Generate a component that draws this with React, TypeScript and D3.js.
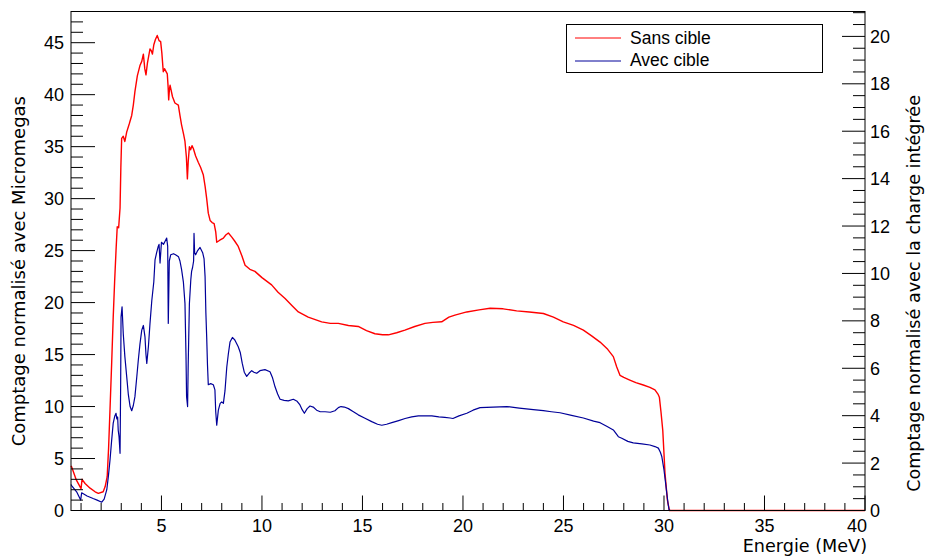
import React from "react";
import * as d3 from "d3";

// ---- Data ----
const sansEnergy = [
  0.5, 0.53, 0.75, 1.0, 1.05, 1.2, 1.45, 1.7, 1.86, 2.1, 2.2, 2.3, 2.37, 2.44, 2.52, 2.6, 2.67, 2.74,
  2.8, 2.87, 2.94, 2.98, 3.02, 3.1, 3.18, 3.27, 3.4, 3.52, 3.6, 3.68, 3.8, 3.93, 4.02, 4.1, 4.17, 4.23,
  4.3, 4.43, 4.5, 4.55, 4.62, 4.7, 4.79, 4.88, 4.96, 5.02, 5.09, 5.15, 5.29, 5.33, 5.36, 5.4, 5.43,
  5.55, 5.67, 5.84, 5.92, 6.0, 6.1, 6.17, 6.24, 6.29, 6.33, 6.39, 6.45, 6.52, 6.59, 6.7, 6.83, 6.95,
  7.08, 7.17, 7.25, 7.33, 7.42, 7.52, 7.62, 7.7, 7.75, 7.9, 8.08, 8.2, 8.33, 8.5, 8.65, 8.82, 9.0,
  9.16, 9.4, 9.65, 10.0, 10.48, 10.8, 11.15, 11.5, 11.81, 12.3, 12.97, 13.4, 13.8, 14.3, 14.79, 15.2,
  15.62, 16.0, 16.29, 16.7, 17.11, 17.6, 18.11, 18.5, 18.94, 19.3, 19.6, 20.19, 20.8, 21.35, 22.0,
  22.67, 23.3, 24.0, 24.5, 24.99, 25.5, 25.99, 26.4, 26.82, 27.2, 27.48, 27.65, 27.81, 28.0, 28.3,
  28.6, 28.97, 29.3, 29.55, 29.7, 29.77, 29.85, 29.94, 30.05, 30.17, 30.27, 40.0,
];
const sansCount = [
  4.3, 4.2, 3.0, 2.1, 3.0, 2.6, 2.15, 1.8, 1.65, 1.8, 2.3, 3.25, 6.0, 9.7, 14.0, 18.6, 22.0, 25.0,
  27.3, 27.2, 29.1, 33.0, 35.8, 36.0, 35.5, 36.4, 37.2, 38.0, 39.0, 40.3, 41.8, 42.8, 43.2, 43.9, 42.5, 41.9,
  43.0, 44.4, 44.2, 43.9, 44.8, 45.3, 45.7, 45.2, 45.1, 44.0, 42.2, 42.5, 42.0, 40.8, 39.5, 40.6, 40.9,
  39.8, 39.2, 39.0, 38.0, 37.1, 36.2, 35.5, 34.0, 31.9, 33.5, 35.0, 34.7, 35.1, 34.8, 34.1, 33.5, 33.0,
  32.3, 31.2, 30.0, 28.6, 27.9, 27.7, 27.6, 26.8, 25.8, 26.0, 26.2, 26.5, 26.7, 26.3, 25.9, 25.4, 24.5,
  23.6, 23.2, 23.0, 22.4, 21.7, 21.0, 20.4, 19.7, 19.1, 18.6, 18.15, 18.0, 18.0, 17.8, 17.7, 17.3,
  17.0, 16.9, 16.9, 17.1, 17.35, 17.7, 18.0, 18.1, 18.15, 18.6, 18.8, 19.1, 19.3, 19.45, 19.4,
  19.2, 19.1, 18.95, 18.6, 18.15, 17.8, 17.35, 16.8, 16.2, 15.5, 14.8, 13.8, 13.0, 12.8, 12.55,
  12.3, 12.07, 11.85, 11.6, 11.2, 10.9, 9.5, 7.7, 3.6, 1.0, 0, 0,
];

const avecEnergy = [
  0.5, 0.53, 0.78, 0.98, 1.03, 1.3, 1.6, 1.8, 2.03, 2.15, 2.28, 2.36, 2.44, 2.52, 2.6, 2.68, 2.74, 2.78,
  2.82, 2.85, 2.89, 2.94, 2.97, 2.99, 3.04, 3.1, 3.18, 3.27, 3.35, 3.44, 3.52, 3.6, 3.68, 3.77, 3.85,
  3.93, 4.02, 4.1, 4.18, 4.23, 4.27, 4.35, 4.43, 4.52, 4.62, 4.68, 4.76, 4.84, 4.88, 4.93, 5.0, 5.1,
  5.18, 5.26, 5.31, 5.34, 5.39, 5.46, 5.6, 5.7, 5.85, 5.92, 6.0, 6.09, 6.17, 6.22, 6.25, 6.3, 6.33,
  6.39, 6.46, 6.5, 6.55, 6.6, 6.62, 6.65, 6.7, 6.8, 6.92, 7.05, 7.12, 7.17, 7.21, 7.25, 7.29, 7.33,
  7.45, 7.58, 7.66, 7.7, 7.75, 7.83, 7.92, 8.0, 8.08, 8.16, 8.25, 8.33, 8.41, 8.53, 8.65, 8.82, 8.92,
  9.02, 9.12, 9.24, 9.36, 9.49, 9.6, 9.74, 9.9, 10.15, 10.4, 10.52, 10.65, 10.78, 10.9, 11.1, 11.31,
  11.56, 11.75, 11.89, 12.0, 12.11, 12.25, 12.39, 12.55, 12.72, 12.9, 13.14, 13.4, 13.63, 13.8, 13.93,
  14.1, 14.3, 14.55, 14.79, 15.1, 15.46, 15.75, 15.96, 16.2, 16.46, 16.8, 17.12, 17.45, 17.78, 18.1,
  18.45, 18.8, 19.1, 19.36, 19.5, 19.8, 20.19, 20.5, 20.85, 21.5, 22.18, 22.8, 23.5, 24.0, 24.4, 24.83,
  25.4, 25.99, 26.5, 26.82, 27.15, 27.48, 27.73, 27.9, 28.2, 28.47, 28.9, 29.3, 29.55, 29.72, 29.82,
  29.89, 30.0, 30.07, 30.14, 30.2, 30.25, 30.3, 40.0,
];
const avecCount = [
  2.5, 2.4, 1.8, 1.0, 1.7, 1.4, 1.15, 1.0, 0.8, 1.1, 2.0, 3.3, 4.85, 6.7, 8.4, 9.1, 9.35, 8.8,
  9.0, 7.7, 7.1, 5.5, 12.0, 18.6, 19.6, 17.0, 14.8, 12.9, 11.2, 10.0, 9.6, 10.1, 10.95, 12.8, 14.5,
  16.0, 17.35, 17.8, 16.7, 15.0, 14.15, 15.75, 18.0, 20.2, 22.0, 24.1, 24.8, 25.4, 25.6, 23.8, 25.8, 25.6,
  25.9, 26.2, 25.4, 18.0, 24.0, 24.6, 24.7, 24.6, 24.4, 24.0, 23.2, 22.0, 19.9, 15.0, 10.95, 10.0, 14.0,
  19.9, 22.2, 23.0, 23.4, 24.0, 26.65, 24.8, 24.6, 25.0, 25.3, 24.8, 24.2, 22.5, 19.0, 16.7, 14.0, 12.1,
  12.2, 12.1, 11.6, 9.5, 8.2, 9.65, 10.3, 10.45, 10.3, 11.5, 13.8, 15.1, 16.2, 16.65, 16.4, 15.75, 15.2,
  14.15, 13.3, 12.9, 13.2, 13.45, 13.3, 13.2, 13.45, 13.55, 13.35, 12.8, 11.9, 11.2, 10.7, 10.6, 10.55,
  10.7, 10.5, 10.15, 9.7, 9.35, 9.8, 10.05, 9.95, 9.65, 9.5, 9.5, 9.45, 9.6, 9.9, 10.0,
  9.95, 9.8, 9.5, 9.2, 8.9, 8.55, 8.3, 8.2, 8.3, 8.45, 8.65, 8.85, 9.0, 9.1, 9.1,
  9.1, 9.0, 8.95, 8.9, 8.85, 9.1, 9.35, 9.65, 9.9, 9.95, 10.0, 9.85, 9.7, 9.6, 9.5, 9.4,
  9.15, 8.9, 8.6, 8.45, 8.1, 7.75, 7.1, 6.95, 6.65, 6.5, 6.4, 6.3, 6.15, 6.0, 5.6,
  5.2, 3.9, 2.8, 1.65, 0.7, 0.1, 0, 0,
];

const xMajorTicks = [5, 10, 15, 20, 25, 30, 35, 40];
const yLeftMajorTicks = [0, 5, 10, 15, 20, 25, 30, 35, 40, 45];
const yRightMajorTicks = [0, 2, 4, 6, 8, 10, 12, 14, 16, 18, 20];

const legendLabels = ["Sans cible", "Avec cible"];
const xTitle = "Energie (MeV)";
const yLeftTitle = "Comptage normalisé avec Micromegas";
const yRightTitle = "Comptage normalisé avec la charge intégrée";

// ---- Layout ----
const W = 927;
const H = 556;
const L = 71;
const R = 865;
const T = 11.5;
const B = 510.5;

const RED = "#ff0000";
const BLUE = "#000099";
const LABEL_FONT = "'Liberation Sans', Arial, Helvetica, sans-serif";
const TITLE_FONT = "'DejaVu Sans', Verdana, sans-serif";

export default function App() {
  const x = d3.scaleLinear().domain([0.5, 40]).range([L, R]);
  const y = d3.scaleLinear().domain([0, 48]).range([B, T]);
  const yR = d3.scaleLinear().domain([0, 21.05]).range([B, T]);

  const sansPts: [number, number][] = sansEnergy.map((e, i) => [e, sansCount[i]]);
  const avecPts: [number, number][] = avecEnergy.map((e, i) => [e, avecCount[i]]);
  const line = d3
    .line<[number, number]>()
    .x((d) => x(d[0]))
    .y((d) => y(d[1]));

  const xMinor = d3.range(1, 41, 1).filter((v) => v % 5 !== 0);
  const yMinor = d3.range(1, 48, 1).filter((v) => v % 5 !== 0);
  const yRMinor = d3.range(0.5, 21.01, 0.5).filter((v) => v % 2 !== 0);

  return (
    <svg width={W} height={H} style={{ position: "absolute", left: 0, top: 0, background: "#fff" }}>
      <rect x={0} y={0} width={W} height={H} fill="#fff" />

      {/* curves */}
      <path d={line(sansPts) || ""} fill="none" stroke={RED} strokeWidth={1.4} strokeLinejoin="round" />
      <path d={line(avecPts) || ""} fill="none" stroke={BLUE} strokeWidth={1.2} strokeLinejoin="round" />

      {/* frame */}
      <rect x={L} y={T} width={R - L} height={B - T} fill="none" stroke="#000" strokeWidth={1} />

      {/* x axis ticks */}
      {xMajorTicks.map((v) => (
        <line key={"xM" + v} x1={x(v)} x2={x(v)} y1={B} y2={B - 15} stroke="#000" />
      ))}
      {xMinor.map((v) => (
        <line key={"xm" + v} x1={x(v)} x2={x(v)} y1={B} y2={B - 7.5} stroke="#000" />
      ))}
      {xMajorTicks.map((v, i) => (
        <text
          key={"xl" + v}
          x={i === xMajorTicks.length - 1 ? R + 2 : x(v)}
          y={532}
          fontFamily={LABEL_FONT}
          fontSize={18}
          textAnchor={i === xMajorTicks.length - 1 ? "end" : "middle"}
        >
          {v}
        </text>
      ))}

      {/* left axis */}
      {yLeftMajorTicks.map((v) => (
        <line key={"yM" + v} x1={L} x2={L + 24} y1={y(v)} y2={y(v)} stroke="#000" />
      ))}
      {yMinor.map((v) => (
        <line key={"ym" + v} x1={L} x2={L + 12} y1={y(v)} y2={y(v)} stroke="#000" />
      ))}
      {yLeftMajorTicks.map((v) => (
        <text key={"yl" + v} x={64} y={y(v) + 6.5} fontFamily={LABEL_FONT} fontSize={18} textAnchor="end">
          {v}
        </text>
      ))}

      {/* right axis */}
      {yRightMajorTicks.map((v) => (
        <line key={"rM" + v} x1={R} x2={R - 23} y1={yR(v)} y2={yR(v)} stroke="#000" />
      ))}
      {yRMinor.map((v) => (
        <line key={"rm" + v} x1={R} x2={R - 12} y1={yR(v)} y2={yR(v)} stroke="#000" />
      ))}
      {yRightMajorTicks.map((v) => (
        <text key={"rl" + v} x={870} y={yR(v) + 6.5} fontFamily={LABEL_FONT} fontSize={18} textAnchor="start">
          {v}
        </text>
      ))}

      {/* axis titles */}
      <text x={867} y={552} fontFamily={TITLE_FONT} fontSize={17.6} textAnchor="end">
        {xTitle}
      </text>
      <text
        transform="translate(25,96) rotate(-90)"
        fontFamily={TITLE_FONT}
        fontSize={18}
        textAnchor="end"
      >
        {yLeftTitle}
      </text>
      <text
        transform="translate(920,95) rotate(-90)"
        fontFamily={TITLE_FONT}
        fontSize={17.6}
        textAnchor="end"
      >
        {yRightTitle}
      </text>

      {/* legend */}
      <rect x={566.5} y={24.5} width={256} height={48} fill="#fff" stroke="#000" strokeWidth={1} />
      <line x1={575} x2={621} y1={38} y2={38} stroke={RED} strokeWidth={1} />
      <line x1={575} x2={621} y1={61} y2={61} stroke={BLUE} strokeWidth={1} />
      <text x={630} y={43.5} fontFamily={LABEL_FONT} fontSize={17.5}>
        {legendLabels[0]}
      </text>
      <text x={630} y={66} fontFamily={LABEL_FONT} fontSize={17.5}>
        {legendLabels[1]}
      </text>
    </svg>
  );
}
